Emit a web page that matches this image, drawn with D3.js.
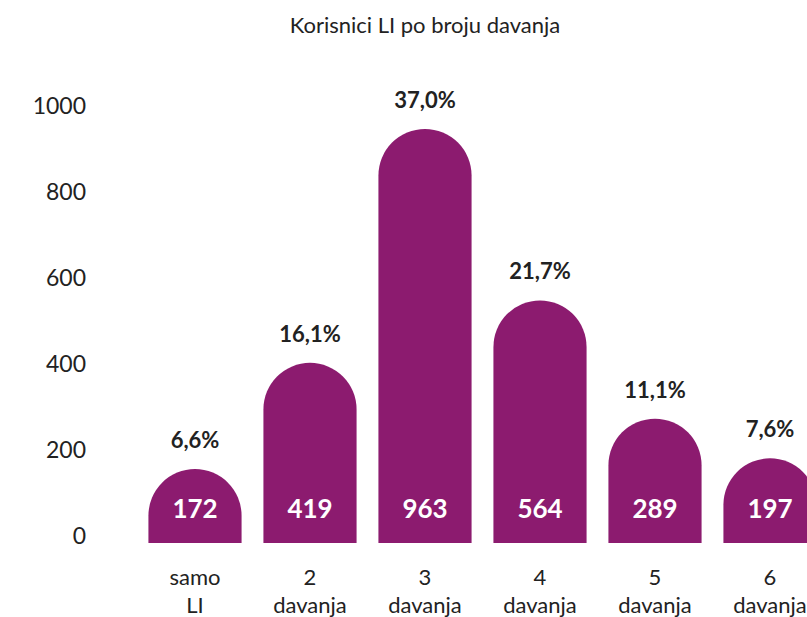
<!DOCTYPE html>
<html><head><meta charset="utf-8">
<script src="https://cdn.jsdelivr.net/npm/d3@7"></script>
<style>body{margin:0;background:#fff;overflow:hidden}svg{display:block}</style>
</head><body><svg id="c" width="807" height="617"></svg>
<script>
const categories = [["samo","LI"],["2","davanja"],["3","davanja"],["4","davanja"],["5","davanja"],["6","davanja"]];
const values = [172, 419, 963, 564, 289, 197];
const percents = ["6,6%","16,1%","37,0%","21,7%","11,1%","7,6%"];
const yTicks = [0, 200, 400, 600, 800, 1000];
const title = "Korisnici LI po broju davanja";

const svg = d3.select("#c");
const font = "Lato, 'Open Sans', sans-serif";
const color = "#8c1b6f";
const x = d3.scaleBand().domain(d3.range(values.length)).range([137.5, 827.5]).paddingInner(0.19).paddingOuter(0.095);
const y = d3.scaleLinear().domain([0, 1000]).range([543, 113]);

svg.append("text").attr("x", 425).attr("y", 33).attr("text-anchor","middle")
  .attr("font-family", font).attr("font-size", 22).attr("fill","#222").text(title);

const yAxis = d3.axisLeft(y).tickValues(yTicks).tickFormat(d3.format("d")).tickSize(0).tickPadding(0);
const ga = svg.append("g").attr("transform","translate(86,0)").call(yAxis);
ga.select(".domain").remove();
ga.selectAll("text").attr("font-family", font).attr("font-size", 23).attr("fill","#222")
  .attr("dy", null).attr("y", -5).attr("dominant-baseline","middle");

const bw = x.bandwidth();
const r = bw/2;
function barPath(i){
  const x0 = x(i), x1 = x0 + bw, yb = y(0), yt = y(values[i]);
  return `M${x0},${yb}L${x0},${yt + r}A${r},${r} 0 0 1 ${x1},${yt + r}L${x1},${yb}Z`;
}
const g = svg.append("g");
g.selectAll("path").data(values).join("path").attr("d",(d,i)=>barPath(i)).attr("fill", color);

g.selectAll("text.val").data(values).join("text").attr("class","val")
  .attr("x",(d,i)=>x(i)+bw/2).attr("y", y(0)-25).attr("text-anchor","middle")
  .attr("font-family", font).attr("font-weight","bold").attr("font-size",26).attr("fill","#fff").text(d=>d);

g.selectAll("text.pct").data(percents).join("text").attr("class","pct")
  .attr("x",(d,i)=>x(i)+bw/2).attr("y",(d,i)=>y(values[i])-21).attr("text-anchor","middle")
  .attr("font-family", font).attr("font-weight","bold").attr("font-size",22).attr("fill","#222").text(d=>d);

const xl = g.selectAll("text.cat").data(categories).join("text").attr("class","cat")
  .attr("x",(d,i)=>x(i)+bw/2).attr("y",585).attr("text-anchor","middle")
  .attr("font-family", font).attr("font-size",22).attr("fill","#222");
xl.each(function(d,i){
  const t = d3.select(this);
  d.forEach((line,j)=>t.append("tspan").attr("x", x(i)+bw/2).attr("dy", j===0?0:28).text(line));
});
</script></body></html>
